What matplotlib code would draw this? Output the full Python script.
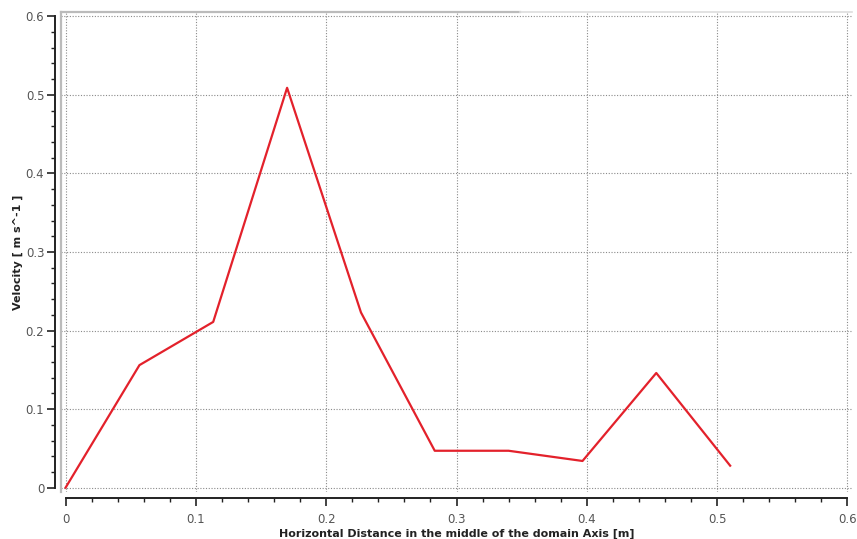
import numpy as np
import matplotlib.pyplot as plt
from matplotlib.lines import Line2D
from matplotlib.ticker import MultipleLocator, FuncFormatter

# valeurs
distance = [0.0, 0.0567, 0.1133, 0.170, 0.2267, 0.2833, 0.340, 0.3967, 0.4533, 0.510]
velocity = [0.0, 0.156, 0.211, 0.509, 0.223, 0.047, 0.047, 0.034, 0.146, 0.028]

fig = plt.figure(figsize=(8.57, 5.39), dpi=100)
ax = fig.add_axes([61 / 857, 1 - 492 / 539, (852 - 61) / 857, (492 - 12) / 539])

ax.plot(distance, velocity, color="#e3212b", linewidth=1.6)

ax.set_xlim(-0.0035, 0.6035)
ax.set_ylim(-0.0055, 0.6055)

# grille pointillée
ax.grid(True, which="major", color="#8a8a8a", linestyle=(0, (1, 1.5)), linewidth=0.8)

# cadre gris (gauche et haut seulement)
for s in ["top", "right"]:
    ax.spines[s].set_visible(False)
frame_l = Line2D([0, 0], [0, 1], transform=ax.transAxes, color="#bbbbbb", linewidth=1.6, clip_on=False)
frame_t = Line2D([0, 0.58], [1, 1], transform=ax.transAxes, color="#bbbbbb", linewidth=1.6, clip_on=False)
frame_t2 = Line2D([0.58, 1], [1, 1], transform=ax.transAxes, color="#dddddd", linewidth=1.2, clip_on=False)
ax.add_line(frame_l)
ax.add_line(frame_t)
ax.add_line(frame_t2)

# axes noirs décalés
for s in ["left", "bottom"]:
    ax.spines[s].set_position(("outward", 4))
    ax.spines[s].set_color("#222222")
    ax.spines[s].set_linewidth(1.4)
    ax.spines[s].set_bounds(0, 0.6)

ax.xaxis.set_major_locator(MultipleLocator(0.1))
ax.xaxis.set_minor_locator(MultipleLocator(0.02))
ax.yaxis.set_major_locator(MultipleLocator(0.1))
ax.yaxis.set_minor_locator(MultipleLocator(0.02))

fmt = FuncFormatter(lambda v, p: "0" if abs(v) < 1e-9 else "%.1f" % v)
ax.xaxis.set_major_formatter(fmt)
ax.yaxis.set_major_formatter(fmt)

ax.tick_params(which="major", length=6, width=1.2, color="#222222",
               labelsize=8.5, labelcolor="#555555")
ax.tick_params(which="minor", length=3, width=1.0, color="#222222")
ax.tick_params(axis="x", pad=5)
ax.tick_params(axis="y", pad=2)

ax.set_xlabel("Horizontal Distance in the middle of the domain Axis [m]",
              fontsize=8, fontweight="bold", color="#222222", labelpad=2)
ax.set_ylabel("Velocity [ m s^-1 ]", fontsize=8, fontweight="bold",
              color="#222222", labelpad=2)

fig.savefig("out.png", dpi=100)
